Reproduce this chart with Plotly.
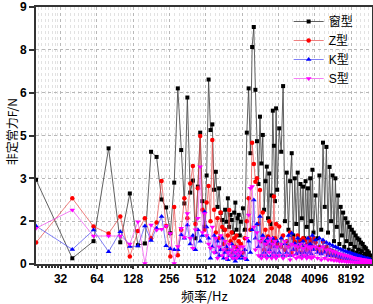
import plotly.graph_objects as go
import math

# frequency categories (Hz)
freq = (list(range(20, 1001, 20)) + list(range(1040, 2001, 40))
        + list(range(2080, 4001, 80)) + list(range(4160, 12001, 160)))

# 窗型
win_vals = [
    2.95, 0.2, 0.8, 4.05, 0.76, 2.47, 0.66, 0.72, 3.93, 3.75,
    2.26, 1.98, 1.08, 2.85, 6.15, 3.99, 2.12, 5.83, 2.5, 2.92,
    0.9, 2.71, 4.6, 2.2, 1.3, 3.1, 6.46, 4.69, 4.89, 2.6,
    3.23, 2.0, 2.65, 1.79, 1.54, 1.2, 1.9, 1.48, 2.3, 1.3,
    1.72, 1.54, 1.1, 1.8, 2.15, 1.2, 1.6, 1.72, 1.0, 1.48,
    # 1040-2000
    1.95, 1.2, 4.6, 6.15, 3.88, 7.6, 8.3, 6.1, 4.3, 2.8,
    5.16, 3.52, 4.52, 1.9, 2.9, 3.41, 1.6, 3.17, 1.4, 2.4,
    5.37, 4.14, 2.2, 5.45, 2.6,
    # 2080-4000
    4.75, 3.93, 6.23, 1.5, 3.2, 1.2, 2.9, 3.88, 1.0, 3.0,
    1.4, 3.2, 0.8, 2.8, 1.6, 2.71, 0.9, 2.9, 1.3, 2.65,
    0.7, 3.0, 1.5, 3.3, 1.1,
    # 4160-12000
    2.4, 0.9, 3.1, 1.2, 4.25, 2.0, 4.1, 1.1, 3.4, 1.5,
    3.1, 0.8, 3.0, 1.3, 2.4, 0.7, 2.0, 1.0, 1.8, 0.6,
    1.6, 0.8, 1.45, 0.5, 1.3, 0.7, 1.2, 0.45, 1.1, 0.6,
    1.0, 0.4, 0.9, 0.5, 0.85, 0.35, 0.75, 0.45, 0.7, 0.3,
    0.6, 0.35, 0.55, 0.25, 0.45, 0.3, 0.4, 0.2, 0.3, 0.15,
]

# Z型
z_vals = [
    0.75, 2.3, 1.31, 1.07, 1.66, 0.26, 1.16, 1.6, 0.9, 1.45,
    2.91, 1.33, 0.26, 2.0, 0.31, 1.2, 2.3, 1.6, 2.82, 3.43,
    1.4, 2.65, 4.48, 1.9, 1.2, 2.15, 2.73, 1.5, 4.34, 1.9,
    1.1, 1.6, 0.9, 1.8, 1.3, 0.7, 1.2, 0.5, 1.0, 1.89,
    0.8, 1.1, 0.4, 0.9, 0.6, 1.0, 0.5, 0.8, 0.3, 0.7,
    # 1040-2000
    0.4, 0.9, 1.5, 2.3, 1.2, 4.25, 3.5, 2.88, 3.0, 1.4,
    2.59, 0.8, 1.8, 0.5, 1.2, 0.7, 0.96, 1.5, 0.6, 1.25,
    0.8, 2.36, 0.9, 1.4, 0.7,
    # 2080-4000
    1.31, 0.6, 1.0, 0.5, 0.8, 0.61, 1.1, 0.4, 0.9, 0.78,
    0.5, 1.0, 0.6, 0.84, 0.4, 0.9, 0.6, 0.84, 0.5, 0.7,
    0.9, 0.5, 0.8, 0.6, 0.9,
    # 4160-12000
    0.75, 0.5, 0.6, 0.4, 0.78, 0.5, 0.6, 0.35, 0.5, 0.3,
    0.45, 0.3, 0.4, 0.25, 0.35, 0.2, 0.3, 0.2, 0.3, 0.15,
    0.25, 0.2, 0.25, 0.15, 0.2, 0.15, 0.2, 0.12, 0.18, 0.12,
    0.15, 0.1, 0.15, 0.1, 0.12, 0.08, 0.12, 0.08, 0.1, 0.07,
    0.09, 0.06, 0.08, 0.05, 0.07, 0.05, 0.06, 0.04, 0.05, 0.04,
]

# K型
k_vals = [
    1.33, 0.51, 1.19, 0.43, 1.13, 0.61, 0.63, 1.33, 0.82, 1.25,
    1.66, 0.64, 0.53, 0.5, 0.5, 1.02, 0.9, 1.37, 0.7, 1.0,
    0.5, 1.2, 0.8, 1.0, 1.83, 1.3, 0.9, 0.2, 0.6, 1.0,
    0.4, 0.8, 0.3, 0.5, 0.9, 0.2, 0.4, 0.6, 0.15, 0.5,
    0.3, 0.7, 0.2, 0.4, 0.1, 0.3, 0.5, 0.2, 0.4, 0.3,
    # 1040-2000
    0.2, 0.5, 0.15, 0.8, 0.4, 1.2, 2.24, 0.9, 1.4, 0.6,
    1.66, 0.3, 1.0, 0.4, 0.8, 0.3, 0.9, 0.5, 0.7, 0.3,
    0.9, 0.4, 0.6, 0.3, 0.8,
    # 2080-4000
    0.4, 0.9, 0.3, 0.7, 0.4, 1.0, 0.3, 1.08, 0.5, 0.72,
    0.35, 0.9, 0.4, 0.7, 0.3, 0.8, 0.4, 0.65, 0.3, 0.9,
    0.4, 0.7, 0.35, 1.0, 0.5,
    # 4160-12000
    0.84, 0.4, 0.9, 0.35, 0.84, 0.4, 0.75, 0.3, 0.7, 0.3,
    0.65, 0.28, 0.6, 0.27, 0.56, 0.24, 0.52, 0.22, 0.48, 0.2,
    0.45, 0.2, 0.42, 0.18, 0.4, 0.17, 0.37, 0.16, 0.34, 0.15,
    0.32, 0.14, 0.3, 0.13, 0.28, 0.12, 0.26, 0.11, 0.24, 0.1,
    0.22, 0.1, 0.2, 0.09, 0.19, 0.08, 0.18, 0.08, 0.16, 0.07,
]

# S型
s_vals = [
    1.25, 1.89, 0.98, 0.98, 0.98, 0.7, 1.48, 0.02, 1.37, 1.19,
    1.22, 1.33, 1.07, 0.02, 0.61, 1.25, 0.93, 1.77, 0.9, 0.55,
    1.2, 1.6, 3.41, 1.1, 1.77, 1.0, 0.7, 0.55, 1.3, 0.4,
    0.9, 0.2, 0.6, 1.0, 0.3, 0.5, 0.8, 0.2, 0.4, 0.7,
    0.3, 0.5, 0.2, 0.6, 0.4, 0.2, 0.5, 0.3, 0.6, 0.4,
    # 1040-2000
    0.6, 0.2, 0.9, 1.72, 2.65, 2.71, 1.3, 0.5, 1.1, 0.3,
    0.8, 0.2, 0.9, 0.3, 0.7, 0.2, 0.8, 0.4, 0.9, 0.2,
    0.7, 0.3, 0.8, 0.2, 0.6,
    # 2080-4000
    0.3, 0.7, 0.2, 0.8, 0.3, 0.6, 0.15, 0.7, 0.3, 0.65,
    0.2, 0.6, 0.25, 0.7, 0.2, 0.55, 0.3, 0.65, 0.2, 0.6,
    0.25, 0.55, 0.2, 0.6, 0.25,
    # 4160-12000
    0.6, 0.2, 0.55, 0.15, 0.6, 0.2, 0.5, 0.15, 0.5, 0.15,
    0.45, 0.12, 0.42, 0.12, 0.38, 0.1, 0.35, 0.1, 0.32, 0.1,
    0.3, 0.08, 0.28, 0.08, 0.26, 0.07, 0.24, 0.07, 0.22, 0.06,
    0.2, 0.06, 0.19, 0.05, 0.18, 0.05, 0.17, 0.05, 0.16, 0.04,
    0.15, 0.04, 0.14, 0.04, 0.13, 0.03, 0.12, 0.03, 0.11, 0.03,
]

series_names = ["窗型", "Z型", "K型", "S型"]
x_ticks = [32, 64, 128, 256, 512, 1024, 2048, 4096, 8192]
y_ticks = [0, 1.5, 3, 4.5, 6, 7.5, 9]
y_ticktext = ["0", "2", "3", "5", "6", "8", "9"]

styles = [
    dict(line="rgba(70,70,70,0.85)", marker="#000000", symbol="square", size=4),
    dict(line="rgba(230,60,60,0.65)", marker="#ff0000", symbol="circle", size=4.5),
    dict(line="rgba(60,60,240,0.65)", marker="#0000ff", symbol="triangle-up", size=5),
    dict(line="rgba(240,60,240,0.65)", marker="#ff00ff", symbol="triangle-down", size=5),
]

fig = go.Figure()
for name, vals, st in zip(series_names, [win_vals, z_vals, k_vals, s_vals], styles):
    fig.add_trace(go.Scatter(
        x=freq, y=vals, name=name, mode="lines+markers",
        line=dict(color=st["line"], width=1),
        marker=dict(color=st["marker"], symbol=st["symbol"], size=st["size"], line=dict(width=0)),
    ))

# minor ticks: linear subdivisions inside each octave
minor_vals = []
for k in range(4, 14):
    base = 2 ** k
    for i in range(1, 10):
        v = base + base * i / 10
        if 20 <= v <= 12230:
            minor_vals.append(v)

tickfont = dict(family="Liberation Sans, Arial", size=12, color="#000", weight="bold")

fig.update_layout(
    width=373, height=304,
    margin=dict(l=36, r=1, t=7, b=40, autoexpand=False),
    paper_bgcolor="white", plot_bgcolor="white",
    showlegend=True,
    legend=dict(
        x=0.752, y=1.0, xanchor="left", yanchor="top",
        bgcolor="rgba(0,0,0,0)", borderwidth=0,
        font=dict(family="Liberation Sans, Noto Sans CJK SC", size=12, color="#000"),
        itemwidth=30, tracegroupgap=0,
    ),
    xaxis=dict(
        type="log", range=[math.log10(20), math.log10(12230)],
        automargin=False,
        tickvals=x_ticks, ticktext=[str(v) for v in x_ticks],
        tickfont=tickfont,
        showline=True, linecolor="#333", linewidth=2, mirror=True,
        ticks="outside", ticklen=3, tickwidth=1.5, tickcolor="#333",
        showgrid=True, gridcolor="#b8b8b8", griddash="dot", gridwidth=1,
        zeroline=False,
        minor=dict(tickvals=minor_vals, ticks="outside", ticklen=2, tickcolor="#333",
                   showgrid=True, gridcolor="#e2e2e2", griddash="dot", gridwidth=1),
    ),
    yaxis=dict(
        range=[0, 9], tickvals=y_ticks, ticktext=y_ticktext,
        automargin=False,
        tickfont=tickfont,
        showline=True, linecolor="#333", linewidth=2, mirror=True,
        ticks="outside", ticklen=5, tickwidth=1.5, tickcolor="#333",
        showgrid=True, gridcolor="#b8b8b8", griddash="dot", gridwidth=1,
        zeroline=False,
    ),
    annotations=[
        dict(text="频率/Hz", xref="paper", yref="paper", x=0.5, y=-0.121,
             xanchor="center", yanchor="middle", showarrow=False,
             font=dict(family="Noto Sans CJK SC", size=13, color="#000")),
        dict(text="非定常力F/N", xref="paper", yref="paper", x=-0.072, y=0.516,
             xanchor="center", yanchor="middle", textangle=-90, showarrow=False,
             font=dict(family="Noto Sans CJK SC", size=12, color="#000")),
    ],
)

fig.write_html("out.html", config=dict(displayModeBar=False),
               post_script="document.body.style.margin='0';document.body.style.padding='0';")
